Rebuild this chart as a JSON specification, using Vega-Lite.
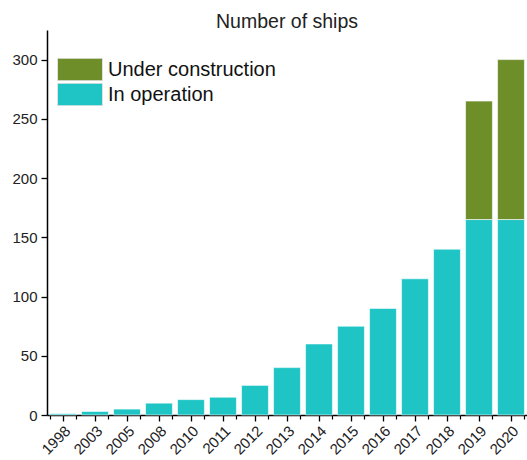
{
  "$schema": "https://vega.github.io/schema/vega-lite/v6.json",
  "autosize": {"type": "none"},
  "padding": {"left": 47, "top": 30, "right": 0, "bottom": 45},
  "width": 480,
  "height": 385,
  "config": {
    "font": "Liberation Sans",
    "view": {"stroke": null},
    "axis": {"labelFont": "Liberation Sans", "labelColor": "#222", "labelFontSize": 15}
  },
  "title": {"text": "Number of ships", "fontSize": 19.5, "fontWeight": "normal", "color": "#222", "anchor": "middle", "offset": -2, "font": "Liberation Sans"},
  "data": {"values": [
    {"year": "1998", "status": "In operation", "count": 1},
    {"year": "2003", "status": "In operation", "count": 3},
    {"year": "2005", "status": "In operation", "count": 5},
    {"year": "2008", "status": "In operation", "count": 10},
    {"year": "2010", "status": "In operation", "count": 13},
    {"year": "2011", "status": "In operation", "count": 15},
    {"year": "2012", "status": "In operation", "count": 25},
    {"year": "2013", "status": "In operation", "count": 40},
    {"year": "2014", "status": "In operation", "count": 60},
    {"year": "2015", "status": "In operation", "count": 75},
    {"year": "2016", "status": "In operation", "count": 90},
    {"year": "2017", "status": "In operation", "count": 115},
    {"year": "2018", "status": "In operation", "count": 140},
    {"year": "2019", "status": "In operation", "count": 165},
    {"year": "2020", "status": "In operation", "count": 165},
    {"year": "2019", "status": "Under construction", "count": 100},
    {"year": "2020", "status": "Under construction", "count": 135}
  ]},
  "layer": [
    {
      "mark": {"type": "bar", "stroke": "#ffffff", "strokeWidth": 0.6},
      "encoding": {
        "x": {
          "field": "year", "type": "ordinal",
          "scale": {"paddingInner": 0.16, "paddingOuter": 0.08},
          "axis": {"title": null, "labelAngle": -45, "labelAlign": "right", "labelBaseline": "top", "labelPadding": 2,
                   "tickSize": 6, "tickColor": "#000", "tickWidth": 1.3, "domainColor": "#000", "domainWidth": 1.5, "grid": false}
        },
        "y": {
          "field": "count", "type": "quantitative", "stack": "zero",
          "scale": {"domain": [0, 325], "nice": false},
          "axis": {
            "title": null,
            "values": [0, 25, 50, 75, 100, 125, 150, 175, 200, 225, 250, 275, 300, 325],
            "labelExpr": "datum.value % 50 == 0 ? datum.label : ''",
            "tickSize": {"condition": {"test": "datum.value % 50 == 0", "value": 6}, "value": 4},
            "tickColor": "#000", "tickWidth": 1.3, "domainColor": "#000", "domainWidth": 1.5,
            "labelPadding": 4,
            "grid": true,
            "gridColor": "#b8b8b8", "gridDash": [1, 2], "gridWidth": 1,
            "gridOpacity": {"condition": {"test": "datum.value % 50 == 25 && datum.value < 300", "value": 1}, "value": 0}
          }
        },
        "color": {
          "field": "status", "type": "nominal",
          "scale": {"domain": ["Under construction", "In operation"], "range": ["#6E8E2A", "#1FC5C5"]},
          "legend": {
            "title": null, "orient": "none", "legendX": 7, "legendY": 25,
            "fillColor": "#ffffff", "padding": 3,
            "symbolType": "M-1,-0.5H1V0.5H-1Z", "symbolSize": 2025, "symbolStrokeColor": "#e0e0e0", "symbolStrokeWidth": 1,
            "symbolOpacity": 1,
            "labelFontSize": 20, "labelFont": "Liberation Sans", "labelColor": "#111", "labelOffset": 5, "labelLimit": 400,
            "clipHeight": 23,
            "rowPadding": 2
          }
        },
        "order": {"field": "status", "sort": "ascending"}
      }
    },
    {
      "mark": {"type": "bar", "opacity": 0},
      "encoding": {
        "x": {
          "field": "year", "type": "ordinal",
          "axis": {"title": null, "orient": "bottom", "labels": false, "domain": false, "tickBand": "extent",
                   "tickSize": 4, "tickColor": "#000", "tickWidth": 1.2, "grid": false}
        },
        "y": {"field": "count", "type": "quantitative", "stack": null}
      }
    }
  ],
  "resolve": {"axis": {"x": "independent"}}
}
